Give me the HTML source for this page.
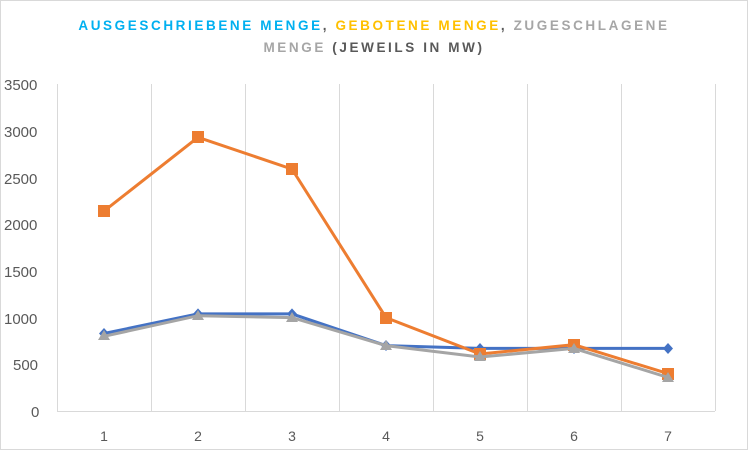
<!DOCTYPE html><html><head><style>body{margin:0;background:#fff}</style></head><body>
<svg width="748" height="450" xmlns="http://www.w3.org/2000/svg" font-family="Liberation Sans, sans-serif">
<rect x="0.5" y="0.5" width="747" height="449" fill="#fff" stroke="#d9d9d9"/>
<text x="374" y="30" text-anchor="middle" font-size="13.5" font-weight="bold" letter-spacing="2.6"><tspan fill="#00b0f0">AUSGESCHRIEBENE MENGE</tspan><tspan fill="#595959">, </tspan><tspan fill="#ffc000">GEBOTENE MENGE</tspan><tspan fill="#595959">, </tspan><tspan fill="#a6a6a6">ZUGESCHLAGENE</tspan></text>
<text x="374" y="52" text-anchor="middle" font-size="13.5" font-weight="bold" letter-spacing="2.6"><tspan fill="#a6a6a6">MENGE </tspan><tspan fill="#595959">(JEWEILS IN MW)</tspan></text>
<g stroke="#d9d9d9" stroke-width="1">
<line x1="57.5" y1="84" x2="57.5" y2="411"/><line x1="151.5" y1="84" x2="151.5" y2="411"/><line x1="245.5" y1="84" x2="245.5" y2="411"/><line x1="339.5" y1="84" x2="339.5" y2="411"/><line x1="433.5" y1="84" x2="433.5" y2="411"/><line x1="527.5" y1="84" x2="527.5" y2="411"/><line x1="621.5" y1="84" x2="621.5" y2="411"/><line x1="715.5" y1="84" x2="715.5" y2="411"/>
<line x1="57" y1="411.5" x2="715" y2="411.5"/>
</g>
<g font-size="15" fill="#595959">
<text x="4" y="90">3500</text><text x="4" y="137">3000</text><text x="4" y="184">2500</text><text x="4" y="230">2000</text><text x="4" y="277">1500</text><text x="4" y="324">1000</text><text x="13" y="370">500</text><text x="31" y="417">0</text>
</g>
<g font-size="14" fill="#595959" text-anchor="middle">
<text x="104" y="441">1</text><text x="198" y="441">2</text><text x="292" y="441">3</text><text x="386" y="441">4</text><text x="480" y="441">5</text><text x="574" y="441">6</text><text x="668" y="441">7</text>
</g>
<polyline fill="none" stroke="#4472c4" stroke-width="3" points="104,333.5 198,313.9 292,313.9 386,345.6 480,348.4 574,348.4 668,348.4"/>
<g fill="#4472c4"><path d="M104,328l5,5.5-5,5.5-5,-5.5z"/><path d="M198,308.4l5,5.5-5,5.5-5,-5.5z"/><path d="M292,308.4l5,5.5-5,5.5-5,-5.5z"/><path d="M386,340l5,5.5-5,5.5-5,-5.5z"/><path d="M480,343l5,5.5-5,5.5-5,-5.5z"/><path d="M574,343l5,5.5-5,5.5-5,-5.5z"/><path d="M668,343l5,5.5-5,5.5-5,-5.5z"/></g>
<polyline fill="none" stroke="#ed7d31" stroke-width="3" points="104,211.1 198,137.3 292,169.1 386,317.6 480,354 574,344.7 668,373.6"/>
<g fill="#ed7d31"><rect x="98" y="205" width="12" height="12"/><rect x="192" y="131" width="12" height="12"/><rect x="286" y="163" width="12" height="12"/><rect x="380" y="312" width="12" height="12"/><rect x="474" y="348" width="12" height="12"/><rect x="568" y="339" width="12" height="12"/><rect x="662" y="368" width="12" height="12"/></g>
<polyline fill="none" stroke="#a5a5a5" stroke-width="3" points="104,336.3 198,315.7 292,317.6 386,345.6 480,357 574,348.4 668,377.4"/>
<g fill="#a5a5a5"><path d="M104,330l6,10h-12z"/><path d="M198,310l6,10h-12z"/><path d="M292,312l6,10h-12z"/><path d="M386,340l6,10h-12z"/><path d="M480,351l6,10h-12z"/><path d="M574,343l6,10h-12z"/><path d="M668,372l6,10h-12z"/></g>
</svg></body></html>
